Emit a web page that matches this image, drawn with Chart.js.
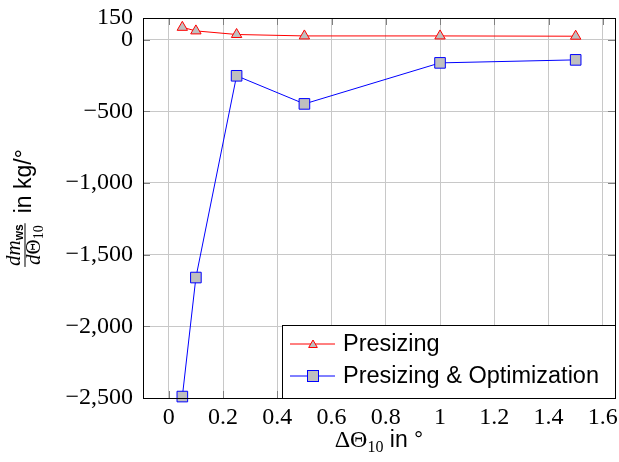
<!DOCTYPE html>
<html>
<head>
<meta charset="utf-8">
<script src="https://cdn.jsdelivr.net/npm/chart.js@4.4.1/dist/chart.umd.min.js"></script>
<style>
  body { margin: 0; background: #fff; }
  #wrap { width: 619px; height: 462px; }
</style>
</head>
<body>
<div id="wrap"><canvas id="chart" width="619" height="462"></canvas></div>
<script>
// data
const deltaTheta = [0.05, 0.1, 0.25, 0.5, 1, 1.5];
const presizing = [85, 60, 35, 25, 25, 23];
const presizingOpt = [-2490, -1660, -253, -449, -163, -142];
const xTicks = [0, 0.2, 0.4, 0.6, 0.8, 1, 1.2, 1.4, 1.6];
const yTicks = [150, 0, -500, -1000, -1500, -2000, -2500];
const seriesNames = ["Presizing", "Presizing & Optimization"];

const SERIF = "'Liberation Serif', serif";
const SANS = "'Liberation Sans', sans-serif";
const MARK_FILL = "#bfbfbf";

function fmtY(v) {
    let s = Math.abs(v).toLocaleString("en-US");
    return v < 0 ? "\u2212" + s : s;
}

function drawTri(ctx, x, y, r) {
    ctx.beginPath();
    ctx.moveTo(x, y - r);
    ctx.lineTo(x + r * 0.866, y + r * 0.5);
    ctx.lineTo(x - r * 0.866, y + r * 0.5);
    ctx.closePath();
    ctx.fill();
    ctx.stroke();
}

// frame, inner ticks, legend, axis titles
const decor = {
    id: "decor",
    afterDatasetsDraw(chart) {
        const ctx = chart.ctx;
        const a = chart.chartArea;
        const xs = chart.scales.x, ys = chart.scales.y;
        ctx.save();

        // inner tick marks on all four sides
        ctx.strokeStyle = "#808080";
        ctx.lineWidth = 1;
        ctx.beginPath();
        xTicks.forEach(t => {
            let px = Math.round(xs.getPixelForValue(t)) + 0.5;
            ctx.moveTo(px, a.bottom); ctx.lineTo(px, a.bottom - 7);
            ctx.moveTo(px, a.top); ctx.lineTo(px, a.top + 7);
        });
        yTicks.forEach(t => {
            let py = Math.round(ys.getPixelForValue(t)) + 0.5;
            ctx.moveTo(a.left, py); ctx.lineTo(a.left + 7, py);
            ctx.moveTo(a.right, py); ctx.lineTo(a.right - 7, py);
        });
        ctx.stroke();

        // legend box
        const bw = 333, bh = 73;
        const bx = a.right - bw, by = a.bottom - bh;
        ctx.fillStyle = "#fff";
        ctx.fillRect(bx, by, bw, bh);
        ctx.strokeStyle = "#000";
        ctx.lineWidth = 1;
        ctx.strokeRect(Math.round(bx) + 0.5, Math.round(by) + 0.5, bw, bh);

        const rows = [by + 19, by + 51];
        const cols = ["#ff0000", "#0000ff"];
        rows.forEach((ry, i) => {
            ctx.strokeStyle = cols[i];
            ctx.lineWidth = 1;
            ctx.beginPath();
            ctx.moveTo(bx + 8, ry); ctx.lineTo(bx + 53, ry);
            ctx.stroke();
            ctx.fillStyle = MARK_FILL;
            if (i === 0) {
                drawTri(ctx, bx + 31, ry + 1, 5);
            } else {
                ctx.fillRect(bx + 25.5, ry - 5.5, 11, 11);
                ctx.strokeRect(bx + 25.5, ry - 5.5, 11, 11);
            }
            ctx.fillStyle = "#000";
            ctx.font = "23.5px " + SANS;
            ctx.textBaseline = "middle";
            ctx.textAlign = "left";
            ctx.fillText(seriesNames[i], bx + 61, ry + 1);
        });

        // frame
        ctx.strokeStyle = "#000";
        ctx.lineWidth = 1;
        ctx.strokeRect(Math.round(a.left) + 0.5, Math.round(a.top) + 0.5,
            Math.round(a.right - a.left), Math.round(a.bottom - a.top));

        // x title: ΔΘ10 in °
        ctx.textBaseline = "alphabetic";
        ctx.textAlign = "left";
        let parts = [
            ["\u0394\u0398", "24px " + SERIF, 0],
            ["10", "16px " + SERIF, 5],
            [" in ", "23px " + SANS, 0],
            ["\u00b0", "23px " + SANS, 0]
        ];
        let w = 0;
        parts.forEach(p => { ctx.font = p[1]; w += ctx.measureText(p[0]).width; });
        let cx = (a.left + a.right) / 2 - w / 2;
        parts.forEach(p => {
            ctx.font = p[1];
            ctx.fillText(p[0], cx, 447 + p[2]);
            cx += ctx.measureText(p[0]).width;
        });

        // y title: dm_ws / dΘ10  in kg/°
        ctx.translate(0, (a.top + a.bottom) / 2);
        ctx.rotate(-Math.PI / 2);
        const num = [["dm", "italic 21px " + SERIF, 0], ["ws", "bold 12px " + SANS, 3]];
        const den = [["d", "italic 21px " + SERIF, 0], ["\u0398", "21px " + SERIF, 0], ["10", "14px " + SERIF, 3]];
        const tail = "in kg/\u00b0";
        const meas = arr => arr.reduce((s, p) => { ctx.font = p[1]; return s + ctx.measureText(p[0]).width; }, 0);
        let nw = meas(num), dw = meas(den);
        let fw = Math.max(nw, dw) + 2;
        ctx.font = "23px " + SANS;
        let tw = ctx.measureText(tail).width;
        let total = fw + 10 + tw;
        let u = -total / 2;
        const drawRun = (arr, start, base) => {
            let p0 = start;
            arr.forEach(p => {
                ctx.font = p[1];
                ctx.fillText(p[0], p0, base + p[2]);
                p0 += ctx.measureText(p[0]).width;
            });
        };
        ctx.fillStyle = "#000";
        drawRun(num, u + (fw - nw) / 2, 20);
        drawRun(den, u + (fw - dw) / 2, 40);
        ctx.fillRect(u, 24.5, fw, 1);
        ctx.font = "23px " + SANS;
        ctx.fillText(tail, u + fw + 10, 31);

        ctx.restore();
    }
};

new Chart(document.getElementById("chart"), {
    type: "line",
    data: {
        datasets: [
            {
                label: seriesNames[0],
                data: deltaTheta.map((x, i) => ({ x: x, y: presizing[i] })),
                borderColor: "#ff0000",
                borderWidth: 1,
                pointStyle: "triangle",
                pointRadius: 6,
                pointBackgroundColor: MARK_FILL,
                pointBorderColor: "#ff0000",
                pointBorderWidth: 1,
                tension: 0,
                clip: false
            },
            {
                label: seriesNames[1],
                data: deltaTheta.map((x, i) => ({ x: x, y: presizingOpt[i] })),
                borderColor: "#0000ff",
                borderWidth: 1,
                pointStyle: "rect",
                pointRadius: 7.5,
                pointBackgroundColor: MARK_FILL,
                pointBorderColor: "#0000ff",
                pointBorderWidth: 1,
                tension: 0,
                clip: false
            }
        ]
    },
    options: {
        responsive: false,
        animation: false,
        layout: { autoPadding: false, padding: { top: 18, right: 4, left: 0, bottom: 0 } },
        plugins: { legend: { display: false }, tooltip: { enabled: false } },
        scales: {
            x: {
                type: "linear",
                min: -0.095,
                max: 1.645,
                afterBuildTicks: s => { s.ticks = xTicks.map(v => ({ value: v })); },
                afterFit: s => { s.height = 64; s.paddingLeft = 0; s.paddingRight = 0; },
                grid: { color: "#c8c8c8", drawTicks: false },
                border: { display: false },
                ticks: {
                    padding: 5,
                    color: "#000",
                    font: { family: SERIF, size: 24 },
                    callback: v => String(Number(v.toFixed(1)))
                }
            },
            y: {
                type: "linear",
                min: -2500,
                max: 150,
                afterBuildTicks: s => { s.ticks = yTicks.map(v => ({ value: v })); },
                afterFit: s => { s.width = 143; s.paddingTop = 0; s.paddingBottom = 0; },
                grid: { color: "#c8c8c8", drawTicks: false },
                border: { display: false },
                ticks: {
                    padding: 10,
                    color: "#000",
                    font: { family: SERIF, size: 24 },
                    callback: v => fmtY(v)
                }
            }
        }
    },
    plugins: [decor]
});
</script>
</body>
</html>
